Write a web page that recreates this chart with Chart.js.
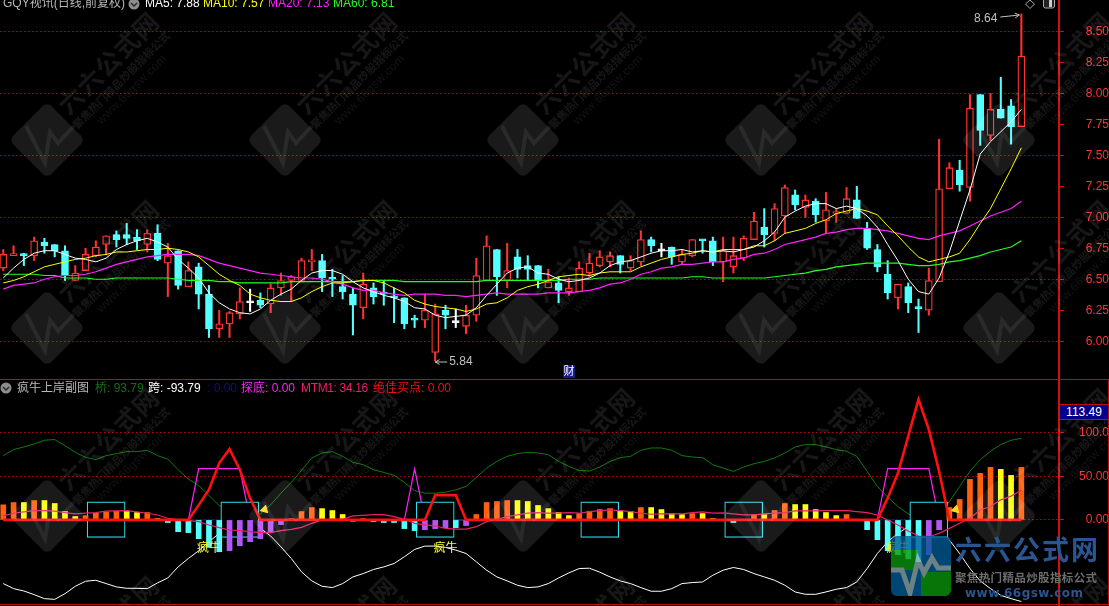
<!DOCTYPE html>
<html>
<head>
<meta charset="utf-8">
<title>GQY视讯</title>
<script src="https://cdn.jsdelivr.net/npm/chart.js@4"></script>
<style>
  html, body { margin: 0; background: #000; width: 1109px; height: 606px; overflow: hidden; }
  body, div, span { font-family: "Liberation Sans", "Noto Sans CJK SC", sans-serif; }
  canvas { position: absolute; left: 0; z-index: 1; }
  #chartMain { top: 0; }
  #chartSub { top: 380px; }
  svg.layer { position: absolute; left: 0; top: 0; pointer-events: none; }
  #wm { z-index: 2; }
  #logo { z-index: 4; }
  .legend { position: absolute; z-index: 3; font-size: 12px; line-height: 12px; white-space: pre; }
  .frame { position: absolute; z-index: 3; background: #c00c0c; }
  #curValue { position: absolute; z-index: 3; left: 1060px; top: 404px; width: 48px; height: 14px; background: #00008c;
    border-top: 1px solid #c00c0c; border-bottom: 1px solid #c00c0c; color: #fff; font-size: 12px; line-height: 14px; text-align: center; }
  #cai { position: absolute; z-index: 3; left: 563px; top: 365px; width: 12px; height: 13px; background: #1a1a8c;
    color: #fff; font-size: 11px; line-height: 13px; text-align: center; }
</style>
</head>
<body>
<canvas id="chartMain" width="1109" height="379"></canvas>
<canvas id="chartSub" width="1109" height="226"></canvas>
<svg id="wm" class="layer" width="1109" height="606"></svg>
<svg id="logo" class="layer" width="1109" height="606"></svg>

<div class="legend" style="left:3px;top:-3px;color:#b8b8b8">GQY视讯(日线,前复权)</div>
<div class="legend" style="left:145px;top:-3px;color:#fff">MA5: 7.88</div>
<div class="legend" style="left:203px;top:-3px;color:#ffff00">MA10: 7.57</div>
<div class="legend" style="left:268px;top:-3px;color:#ff20ff">MA20: 7.13</div>
<div class="legend" style="left:333px;top:-3px;color:#20ff20">MA60: 6.81</div>

<div class="legend" style="left:17px;top:382px;color:#b8b8b8">疯牛上岸副图</div>
<div class="legend" style="left:95px;top:382px;color:#107010">桥: 93.79</div>
<div class="legend" style="left:148px;top:382px;color:#fff">跨: -93.79</div>
<div class="legend" style="left:207px;top:382px;color:#10107c">: 0.00</div>
<div class="legend" style="left:241px;top:382px;color:#ff20ff">探底: 0.00</div>
<div class="legend" style="left:301px;top:382px;color:#e8206c;letter-spacing:-0.35px">MTM1: 34.16</div>
<div class="legend" style="left:373px;top:382px;color:#f01010">绝佳买点: 0.00</div>

<div class="frame" style="left:0;top:379px;width:1109px;height:1px"></div>
<div class="frame" style="left:0;top:604px;width:1109px;height:1px"></div>
<div class="frame" style="left:1108px;top:380px;width:1px;height:225px"></div>
<div id="curValue">113.49</div>
<div id="cai">财</div>

<script>
  "use strict";

  // daily candles
  const opens = [
    6.59,6.69,6.70,6.69,6.80,6.78,6.73,6.49,6.57,6.69,
    6.78,6.86,6.86,6.84,6.78,6.87,6.63,6.73,6.44,6.60,
    6.38,6.10,6.14,6.22,6.31,6.33,6.30,6.43,6.49,6.49,
    6.64,6.65,6.51,6.44,6.38,6.27,6.43,6.39,6.36,6.35,
    6.18,6.17,5.91,6.25,6.15,6.12,6.21,6.49,6.74,6.49,
    6.68,6.61,6.61,6.43,6.47,6.40,6.40,6.55,6.61,6.64,
    6.69,6.59,6.64,6.82,6.73,6.76,6.64,6.69,6.82,6.81,
    6.64,6.60,6.67,6.82,6.92,6.87,7.01,7.18,7.08,7.13,
    6.97,7.03,7.03,7.14,6.91,6.74,6.54,6.35,6.44,6.28,
    6.25,6.48,7.23,7.38,7.24,7.99,7.66,7.87,7.90,7.73];
  const highs = [
    6.74,6.77,6.71,6.84,6.83,6.78,6.77,6.61,6.75,6.81,
    6.85,6.89,6.95,6.90,6.90,6.94,6.79,6.73,6.64,6.63,
    6.45,6.25,6.24,6.43,6.42,6.39,6.46,6.55,6.53,6.67,
    6.74,6.70,6.58,6.53,6.43,6.55,6.47,6.49,6.43,6.35,
    6.21,6.38,6.30,6.29,6.26,6.29,6.67,6.85,6.74,6.79,
    6.74,6.69,6.61,6.58,6.52,6.51,6.64,6.71,6.73,6.72,
    6.69,6.69,6.89,6.84,6.79,6.76,6.74,6.82,6.82,6.84,
    6.84,6.84,6.85,7.04,7.07,7.11,7.26,7.22,7.18,7.15,
    7.20,7.07,7.24,7.25,6.96,6.78,6.65,6.46,6.47,6.34,
    6.59,7.63,7.44,7.46,7.99,7.99,8.00,8.13,7.95,8.64];
  const lows = [
    6.57,6.69,6.61,6.65,6.71,6.68,6.49,6.49,6.57,6.68,
    6.70,6.76,6.78,6.74,6.72,6.65,6.36,6.42,6.44,6.26,
    6.03,6.03,6.03,6.18,6.24,6.27,6.23,6.37,6.32,6.49,
    6.57,6.40,6.36,6.34,6.05,6.18,6.30,6.29,6.15,6.10,
    6.11,6.11,5.84,6.10,6.11,6.06,6.16,6.49,6.37,6.43,
    6.51,6.49,6.43,6.43,6.31,6.37,6.40,6.52,6.60,6.60,
    6.55,6.57,6.61,6.72,6.68,6.62,6.62,6.68,6.71,6.61,
    6.48,6.55,6.65,6.82,6.76,6.81,6.87,7.06,7.00,6.96,
    6.87,6.96,7.03,6.99,6.74,6.56,6.34,6.26,6.23,6.07,
    6.21,6.48,7.23,7.21,7.13,7.58,7.62,7.80,7.59,7.73];
  const closes = [
    6.70,6.70,6.69,6.81,6.77,6.73,6.53,6.55,6.70,6.76,
    6.85,6.82,6.83,6.81,6.87,6.66,6.69,6.45,6.57,6.38,
    6.10,6.14,6.23,6.32,6.31,6.29,6.43,6.49,6.52,6.65,
    6.65,6.51,6.50,6.40,6.29,6.46,6.36,6.38,6.35,6.14,
    6.17,6.25,6.22,6.21,6.15,6.21,6.53,6.77,6.52,6.57,
    6.58,6.58,6.49,6.48,6.41,6.43,6.59,6.63,6.68,6.69,
    6.62,6.65,6.82,6.77,6.73,6.68,6.70,6.82,6.81,6.64,
    6.73,6.69,6.83,6.97,6.86,7.07,7.24,7.10,7.14,7.02,
    7.06,7.04,7.15,6.99,6.75,6.60,6.39,6.46,6.31,6.26,
    6.49,7.23,7.40,7.26,7.88,7.70,7.87,7.80,7.73,8.30];

  const ma5 = [
    6.51,6.59,6.66,6.71,6.73,6.73,6.70,6.67,6.66,6.64,
    6.67,6.74,6.78,6.81,6.83,6.80,6.76,6.66,6.59,6.51,
    6.39,6.31,6.26,6.23,6.22,6.26,6.33,6.38,6.42,6.49,
    6.55,6.57,6.57,6.54,6.48,6.43,6.40,6.37,6.35,6.32,
    6.27,6.26,6.21,6.19,6.20,6.21,6.27,6.37,6.46,6.55,
    6.59,6.60,6.55,6.54,6.50,6.48,6.49,6.51,6.55,6.61,
    6.64,6.65,6.68,6.71,6.73,6.73,6.74,6.72,6.73,6.72,
    6.73,6.72,6.74,6.76,6.81,6.88,7.00,7.05,7.09,7.11,
    7.11,7.07,7.09,7.07,7.01,6.92,6.78,6.65,6.50,6.40,
    6.38,6.51,6.72,6.97,7.22,7.51,7.61,7.69,7.77,7.87];
  const ma10 = [
    6.47,6.49,6.52,6.56,6.60,6.62,6.64,6.66,6.67,6.69,
    6.70,6.72,6.72,6.73,6.74,6.74,6.75,6.74,6.72,6.68,
    6.61,6.54,6.49,6.45,6.38,6.35,6.33,6.32,6.32,6.35,
    6.40,6.44,6.47,6.47,6.48,6.49,6.49,6.47,6.43,6.39,
    6.33,6.30,6.28,6.27,6.26,6.24,6.26,6.30,6.31,6.35,
    6.41,6.44,6.46,6.49,6.52,6.53,6.54,6.53,6.55,6.56,
    6.56,6.56,6.60,6.63,6.66,6.68,6.70,6.71,6.73,6.72,
    6.74,6.74,6.74,6.77,6.77,6.81,6.87,6.89,6.91,6.95,
    6.98,7.03,7.05,7.07,7.05,7.02,6.93,6.85,6.76,6.68,
    6.64,6.66,6.68,6.71,6.82,6.95,7.07,7.23,7.39,7.56];
  const ma20 = [
    6.42,6.45,6.46,6.47,6.50,6.52,6.53,6.53,6.54,6.56,
    6.59,6.62,6.64,6.66,6.68,6.69,6.70,6.70,6.70,6.69,
    6.66,6.63,6.61,6.59,6.57,6.55,6.54,6.53,6.52,6.51,
    6.51,6.50,6.48,6.46,6.43,6.41,6.41,6.39,6.38,6.37,
    6.38,6.38,6.38,6.37,6.37,6.36,6.37,6.38,6.39,6.38,
    6.38,6.38,6.38,6.39,6.39,6.39,6.40,6.41,6.43,6.46,
    6.47,6.50,6.54,6.56,6.59,6.60,6.62,6.62,6.63,6.64,
    6.64,6.66,6.67,6.70,6.71,6.74,6.78,6.80,6.82,6.84,
    6.87,6.88,6.90,6.91,6.91,6.90,6.89,6.87,6.85,6.83,
    6.82,6.85,6.87,6.89,6.93,6.97,7.01,7.04,7.07,7.13];
  const ma60 = [
    6.54,6.54,6.54,6.54,6.53,6.53,6.51,6.51,6.51,6.50,
    6.50,6.51,6.51,6.51,6.51,6.51,6.51,6.50,6.49,6.49,
    6.49,6.48,6.48,6.47,6.47,6.47,6.47,6.47,6.48,6.48,
    6.48,6.48,6.48,6.48,6.48,6.49,6.49,6.49,6.49,6.48,
    6.48,6.48,6.48,6.48,6.48,6.48,6.48,6.49,6.49,6.49,
    6.49,6.49,6.49,6.49,6.49,6.50,6.50,6.50,6.51,6.51,
    6.51,6.51,6.51,6.51,6.51,6.51,6.51,6.52,6.52,6.51,
    6.51,6.51,6.51,6.51,6.51,6.52,6.53,6.54,6.55,6.57,
    6.58,6.60,6.61,6.62,6.63,6.63,6.63,6.63,6.62,6.61,
    6.61,6.62,6.64,6.65,6.67,6.69,6.72,6.74,6.76,6.81];

  const priceTicks = [6.00,6.25,6.50,6.75,7.00,7.25,7.50,7.75,8.00,8.25,8.50];

  // lower panel series
  const bridge = [
    73.9,80.8,83.9,87.3,91.6,92.4,85.4,77.7,71.9,69.3,
    73.9,76.2,78.5,78.5,80.0,73.9,70.0,57.7,46.9,39.6,
    28.1,16.5,12.3,9.6,7.6,6.9,17.3,30.8,43.1,56.9,
    71.2,77.0,78.5,73.1,66.2,63.5,57.7,54.6,51.2,43.1,
    33.8,30.8,30.8,31.9,34.6,38.5,48.8,59.6,67.3,73.1,
    76.2,77.7,77.0,75.0,67.3,61.5,56.9,56.2,60.8,67.3,
    71.6,73.1,80.0,82.7,82.7,80.0,73.9,72.3,71.6,63.5,
    59.6,55.8,60.8,64.6,67.3,71.2,77.0,83.9,86.6,86.6,
    83.9,80.8,78.9,73.1,55.8,38.5,26.1,15.4,6.9,1.9,
    0,5.7,21.1,38.5,55.8,69.3,78.9,86.6,91.6,93.79];
  const cross = [
    -73.2,-79.0,-81.7,-85.9,-90.5,-91.3,-84.8,-76.3,-70.5,-69.4,
    -73.2,-77.0,-78.6,-78.6,-79.0,-72.4,-66.7,-54.0,-44.3,-35.5,
    -25.1,-15.5,-11.6,-9.7,-8.5,-9.7,-18.5,-30.9,-44.3,-59.7,
    -70.1,-76.3,-77.8,-73.2,-65.5,-61.7,-57.0,-54.0,-50.1,-42.4,
    -33.9,-30.1,-30.1,-31.6,-34.7,-38.6,-48.2,-57.8,-65.5,-70.1,
    -75.1,-77.8,-77.0,-73.2,-66.7,-60.9,-55.9,-55.5,-60.1,-65.5,
    -70.1,-73.2,-77.8,-82.0,-82.0,-79.0,-73.2,-72.0,-71.3,-63.6,
    -57.8,-54.7,-57.0,-61.7,-65.5,-69.4,-75.1,-82.8,-85.5,-85.5,
    -82.8,-79.7,-77.8,-71.3,-55.9,-38.6,-25.1,-15.5,-7.8,-3.9,
    -0.8,-5.8,-23.2,-38.6,-55.9,-70.1,-79.0,-86.7,-90.5,-93.79];
  const mtm1 = [
    4.6,7.7,9.2,10.7,10.7,10.0,8.4,6.9,7.7,8.4,
    10.0,10.3,10.7,9.2,7.7,5.7,1.9,0,-0.8,-2.0,
    -5.8,-8.9,-11.6,-12.4,-13.5,-14.7,-14.7,-12.4,-10.8,-8.5,
    -3.9,0,0.7,0.7,4.6,5.3,6.1,6.1,3.8,0.7,
    -3.9,-5.8,-7.0,-9.7,-10.5,-10.5,-7.8,-2.0,0.7,3.8,
    5.7,7.7,8.4,7.7,7.7,8.4,7.7,9.6,10.7,11.5,
    10.7,9.6,7.7,6.5,6.9,7.3,6.9,8.4,9.2,7.7,
    8.0,6.9,5.7,5.7,6.9,7.7,8.4,10.3,10.3,10.3,
    10.7,10.7,10.7,9.6,8.4,5.7,0,-5.8,-12.8,-18.5,
    -19.3,-15.5,-9.7,-3.9,1.9,11.5,15.4,23.1,27.4,34.16];
  const histValues = [
    17.3,20,20,22.3,22.3,18.9,9.6,3.9,5,7.7,
    9.2,10,10,8.5,8.5,1.5,-3,-13.5,-14.6,-21.6,
    -31.6,-36.6,-35.4,-29.6,-25,-21.6,-13.5,-5.4,1.5,9.6,
    14.2,13,10.8,6.2,-1.5,1.5,-1.9,-3,-3,-10,
    -12.3,-11.2,-10,-8.9,-8.9,-6.5,6.2,20,21.2,22.3,
    22.3,21.2,16.6,13,8.5,5,7.3,10,11.9,13,
    10.8,9.6,14.2,14.2,11.9,7.3,6.2,7.3,7.3,1.5,
    -0.8,-3,-0.5,6.2,6.2,10.8,18.9,17.7,17.7,11.9,
    8.5,5,6.2,-0.8,-11.2,-22.7,-35.4,-40,-44.7,-48.1,
    -40,-11.2,14.2,23.5,46.6,53.5,60.4,58.1,51.2,60.4];
  // o orange, y yellow, c cyan, p purple, one letter per bar
  const histKinds = (
    "ooyoyyyyoo" + "ooyyoycccc" + "ccppppppoo" + "oyyycocccc" + "cpppcpoooo" +
    "yyyyyyoooo" + "yyoyyyyoyy" + "cccoyooyyy" + "yyoccccccc" + "ppoooooyyo"
  ).split("");
  // 探底 flat tops and 绝佳买点 humps: index and value
  const dipIdx = [19,20,21,22,23, 40, 86,87,88,89,90];
  const dipVal = [58.9,58.9,58.9,58.9,58.9, 58.9, 58.9,58.9,58.9,58.9,58.9];
  const buyIdx = [19,20,21,22,23,24, 42,43,44, 86,87,88,89,90,91];
  const buyVal = [17,34.7,65.4,81.6,57.8,25, 28.5,28.5,28.5, 25,53.9,96.3,138.6,104,55.8];
  const boxIdx = [10,23,42,58,72,90];
  const boxLow = -20, boxHigh = 20.8;
  const signalIdx = [20,43,87];
  const arrowIdx = [25.4,92.6];
  const subTicks = [0,50,100];
  const subTickLabels = ["0.00","50.00","100.0"];

  const RED = "#ff3232", CYAN = "#54ffff", GRID = "#b00808", AXIS = "#d01010";
  const N = opens.length;
  const idx = opens.map((_, i) => i);
  // 1059 px plot wide, candle 0 at x=3.3, one candle per 10.283 px
  const X_MIN = -0.32, X_MAX = 102.66;
  const xAxis = { type: "linear", display: false, offset: false, min: X_MIN, max: X_MAX };

  function sparse(indexes, values) {
    // zero outside the listed stretches
    const out = idx.map((i) => ({ x: i, y: 0 }));
    indexes.forEach((k, j) => { out[k].y = values[j]; });
    return out;
  }

  function line(label, values, color, width, order) {
    return {
      type: "line", label, order,
      data: values.map((v, i) => (typeof v === "object" ? v : { x: i, y: v })),
      borderColor: color, borderWidth: width, pointRadius: 0, tension: 0,
    };
  }

  function candleColor(i) {
    if (closes[i] > opens[i]) return RED;
    if (closes[i] < opens[i]) return CYAN;
    return "#ffffff";
  }

  function yAxis(ticks, labelOf, min, max, padding) {
    return {
      position: "right", min, max,
      afterFit: (s) => { s.width = 50; s.paddingTop = 0; s.paddingBottom = 0; },
      afterBuildTicks: (s) => { s.ticks = ticks.map((value) => ({ value })); },
      border: { color: AXIS, width: 2, dash: [1.5, 2.5] },
      grid: {
        color: (c) => (c.tick && labelOf.grid(c.tick.value) ? GRID : "transparent"),
        tickColor: AXIS, tickLength: 5, lineWidth: 1, tickWidth: 1,
      },
      ticks: {
        color: RED, autoSkip: false, padding, crossAlign: "far", maxRotation: 0,
        font: { family: "Liberation Sans", size: 12 },
        callback: labelOf.text,
      },
    };
  }

  const baseOptions = {
    responsive: false, animation: false, devicePixelRatio: 1, events: [],
    layout: { padding: 0, autoPadding: false },
    plugins: { legend: { display: false }, tooltip: { enabled: false } },
  };

  function arrowLine(ctx, x1, y1, x2, y2) {
    const a = Math.atan2(y2 - y1, x2 - x1);
    ctx.beginPath();
    ctx.moveTo(x1, y1);
    ctx.lineTo(x2, y2);
    ctx.moveTo(x2 - 5 * Math.cos(a - 0.5), y2 - 5 * Math.sin(a - 0.5));
    ctx.lineTo(x2, y2);
    ctx.lineTo(x2 - 5 * Math.cos(a + 0.5), y2 - 5 * Math.sin(a + 0.5));
    ctx.stroke();
  }

  const extremeMarks = {
    id: "extremeMarks",
    afterDatasetsDraw(chart) {
      const { ctx, scales: { x, y } } = chart;
      const hiI = highs.indexOf(Math.max(...highs));
      const loI = lows.indexOf(Math.min(...lows));
      ctx.save();
      ctx.fillStyle = "#c0c0c0";
      ctx.strokeStyle = "#c0c0c0";
      ctx.lineWidth = 1;
      ctx.font = "12px 'Liberation Sans'";
      ctx.textBaseline = "middle";
      const hx = x.getPixelForValue(hiI), hy = y.getPixelForValue(highs[hiI]);
      ctx.textAlign = "right";
      ctx.fillText(highs[hiI].toFixed(2), hx - 24, hy + 5);
      arrowLine(ctx, hx - 21, hy + 3, hx - 2, hy + 1);
      const lx = x.getPixelForValue(loI), ly = y.getPixelForValue(lows[loI]);
      ctx.textAlign = "left";
      ctx.fillText(lows[loI].toFixed(2), lx + 14, ly + 1);
      arrowLine(ctx, lx + 12, ly + 1, lx, ly + 1);
      ctx.restore();
    },
  };

  const signalText = {
    id: "signalText",
    afterDatasetsDraw(chart) {
      const { ctx, scales: { x, y } } = chart;
      ctx.save();
      ctx.fillStyle = "#ffff30";
      ctx.font = "12px 'Noto Sans CJK SC'";
      ctx.textAlign = "center";
      ctx.textBaseline = "middle";
      signalIdx.forEach((i) => {
        ctx.fillText("疯牛", x.getPixelForValue(i), y.getPixelForValue(-31.5));
      });
      ctx.restore();
    },
  };

  new Chart(document.getElementById("chartMain"), {
    data: {
      datasets: [
        line("MA5", ma5, "#ffffff", 1, 0),
        line("MA10", ma10, "#ffff00", 1, 0),
        line("MA20", ma20, "#ff20ff", 1.2, 0),
        line("MA60", ma60, "#20ff20", 1.2, 0),
        {
          type: "bar", label: "body", order: 1, grouped: false, barThickness: 7, minBarLength: 2,
          data: idx.map((i) => ({ x: i, y: [opens[i], closes[i]] })),
          backgroundColor: idx.map((i) => (closes[i] > opens[i] ? "#000" : candleColor(i))),
          borderColor: idx.map(candleColor), borderWidth: 1.3, borderSkipped: false,
        },
        {
          type: "bar", label: "wick", order: 2, grouped: false, barThickness: 1.4,
          data: idx.map((i) => ({ x: i, y: [lows[i], highs[i]] })),
          backgroundColor: idx.map(candleColor),
        },
      ],
    },
    options: {
      ...baseOptions,
      scales: {
        x: xAxis,
        y: yAxis(priceTicks, {
          grid: (v) => Math.abs(v * 2 - Math.round(v * 2)) < 1e-6,
          text: (v) => Number(v).toFixed(2),
        }, 5.695, 8.753, 16),
      },
    },
    plugins: [extremeMarks],
  });

  new Chart(document.getElementById("chartSub"), {
    data: {
      datasets: [
        line("绝佳买点", sparse(buyIdx, buyVal), "#ff1010", 2.6, 1),
        line("MTM1", mtm1, "#e8206c", 1.2, 2),
        {
          type: "bar", label: "hist", order: 3, grouped: false, barThickness: 5,
          data: idx.map((i) => ({ x: i, y: histValues[i] })),
          backgroundColor: idx.map((i) => ({ o: "#ff6010", y: "#ffff10", c: "#54ffff", p: "#b455f5" })[histKinds[i]]),
        },
        {
          type: "bar", label: "box", order: 4, grouped: false, barThickness: 38,
          data: boxIdx.map((i) => ({ x: i, y: [boxLow, boxHigh] })),
          backgroundColor: "#000", borderColor: "#30e0e8", borderWidth: 1.2, borderSkipped: false,
        },
        line("zero", [{ x: 0, y: 0 }, { x: N - 1, y: 0 }], "#10107c", 1.2, 5),
        line("探底", sparse(dipIdx, dipVal), "#ff20ff", 1.2, 6),
        line("桥", bridge, "#107a10", 1, 7),
        line("跨", cross, "#ffffff", 1, 7),
        {
          type: "scatter", label: "arrow", order: 0,
          data: arrowIdx.map((x) => ({ x, y: 12 })),
          pointStyle: "triangle", pointRadius: 4.5, pointRotation: 135,
          backgroundColor: "#ffd820", borderColor: "#ffd820",
        },
      ],
    },
    options: {
      ...baseOptions,
      scales: {
        x: xAxis,
        y: yAxis(subTicks, {
          grid: () => true,
          text: (v) => subTickLabels[subTicks.indexOf(v)],
        }, -98.96, 160.85, 9),
      },
    },
    plugins: [signalText],
  });

  // site watermark, repeated over the whole picture
  const WM_COLS = [47, 285, 523, 761, 999];
  const WM_ROWS = [140, 328, 516, 704];
  const wmParts = [];
  WM_ROWS.forEach((wy) => WM_COLS.forEach((wx) => {
    wmParts.push(`<g transform="translate(${wx},${wy})">
      <rect x="-27" y="-27" width="54" height="54" rx="6" transform="rotate(45)" fill="rgba(255,255,255,0.10)"/>
      <polyline points="-21,-14 -2,23 3,-8 11,3 27,-14" fill="none" stroke="rgba(255,255,255,0.07)" stroke-width="4"/>
      <text transform="translate(63,-75) rotate(-45)" text-anchor="middle" dominant-baseline="middle"
        font-family="Noto Sans CJK SC" font-weight="700" font-size="25" textLength="130" fill="rgba(255,255,255,0.09)">六六公式网</text>
      <text transform="translate(75,-59) rotate(-45)" text-anchor="middle" dominant-baseline="middle"
        font-family="Noto Sans CJK SC" font-weight="700" font-size="11" textLength="132" fill="rgba(255,255,255,0.09)">聚焦热门精品炒股指标公式</text>
      <text transform="translate(85,-50) rotate(-45)" text-anchor="middle" dominant-baseline="middle"
        font-family="Liberation Sans" font-size="12" textLength="93" fill="rgba(255,255,255,0.07)">www.66gsw.com</text>
    </g>`);
  }));
  document.getElementById("wm").innerHTML = wmParts.join("");

  // corner logo and the small header icons
  document.getElementById("logo").innerHTML = `
    <defs><clipPath id="lc"><rect x="891" y="536" width="60" height="60" rx="6"/></clipPath></defs>
    <g clip-path="url(#lc)" opacity="0.78">
      <rect x="891" y="536" width="60" height="60" fill="#005a96"/>
      <rect x="891" y="550" width="27" height="20" fill="#0a960a"/>
      <rect x="921" y="572" width="30" height="24" fill="#0a960a"/>
      <polyline points="891,570 902,570 910,593 918,560 924,573 932,558 938,568 951,568"
        fill="none" stroke="#8aa6a8" stroke-width="5"/>
    </g>
    <text x="955" y="560" font-family="Noto Sans CJK SC" font-weight="700" font-size="27" textLength="143" fill="#2a5590">六六公式网</text>
    <text x="955" y="582" font-family="Noto Sans CJK SC" font-weight="700" font-size="11.5" textLength="142" fill="#6e6e6e">聚焦热门精品炒股指标公式</text>
    <text x="965" y="597" font-family="DejaVu Sans" font-weight="700" font-size="12" textLength="118" fill="#2a5590">www.66gsw.com</text>
    <circle cx="134" cy="4" r="5.5" fill="#8c8c8c"/>
    <polyline points="131,3 134,6 137,3" fill="none" stroke="#222" stroke-width="1.3"/>
    <circle cx="6" cy="388" r="5.5" fill="#8c8c8c"/>
    <polyline points="3,387 6,390 9,387" fill="none" stroke="#222" stroke-width="1.3"/>
    <path d="M1030 0 L1034.500 4 L1030 8.500 L1025.500 4 Z" fill="none" stroke="#aaa"/>
    <rect x="1043.500" y="-3" width="11" height="11" rx="2" fill="#222" stroke="#aaa"/>
    <rect x="1049" y="-2" width="3" height="9" fill="#ccc"/>`;
</script>
</body>
</html>
